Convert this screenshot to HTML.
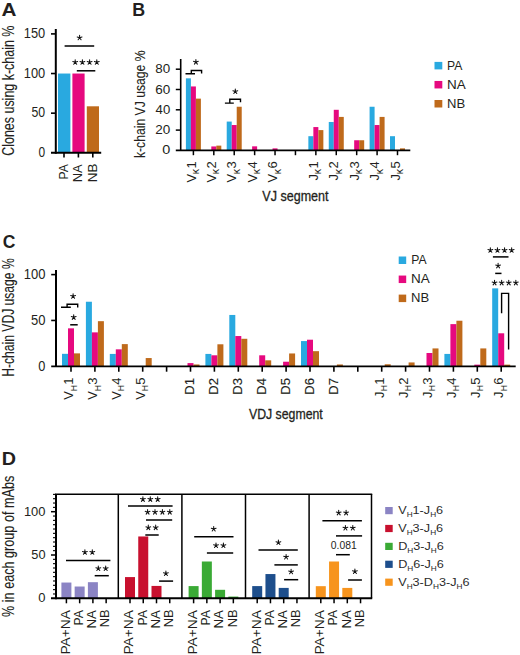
<!DOCTYPE html>
<html><head><meta charset="utf-8"><style>
html,body{margin:0;padding:0;background:#fff;}
body{width:520px;height:655px;overflow:hidden;}
svg{display:block;font-family:"Liberation Sans",sans-serif;}
</style></head><body>
<svg width="520" height="655" viewBox="0 0 520 655">
<rect width="520" height="655" fill="#fff"/>
<text x="1.48" y="16.10" font-size="19" fill="#231f20" textLength="14.98" lengthAdjust="spacingAndGlyphs" font-weight="bold">A</text>
<text transform="translate(13.90,155.82) rotate(-90)" font-size="16" fill="#231f20" textLength="130.26" lengthAdjust="spacingAndGlyphs" stroke="#231f20" stroke-width="0.1">Clones using k-chain %</text>
<rect x="58.00" y="73.53" width="12.40" height="79.27" fill="#29a9e0"/>
<rect x="72.40" y="73.53" width="12.20" height="79.27" fill="#e6097f"/>
<rect x="86.80" y="106.30" width="12.20" height="46.50" fill="#bf6a1b"/>
<line x1="55.80" y1="29.00" x2="55.80" y2="153.80" stroke="#000" stroke-width="2"/>
<line x1="51.00" y1="152.80" x2="101.20" y2="152.80" stroke="#000" stroke-width="2"/>
<line x1="51.00" y1="113.17" x2="56.00" y2="113.17" stroke="#000" stroke-width="1.6"/>
<line x1="51.00" y1="73.53" x2="56.00" y2="73.53" stroke="#000" stroke-width="1.6"/>
<line x1="51.00" y1="33.90" x2="56.00" y2="33.90" stroke="#000" stroke-width="1.6"/>
<text x="38.52" y="157.11" font-size="14.3" fill="#231f20" textLength="6.64" lengthAdjust="spacingAndGlyphs">0</text>
<text x="31.51" y="117.48" font-size="14.3" fill="#231f20" textLength="13.68" lengthAdjust="spacingAndGlyphs">50</text>
<text x="23.74" y="77.85" font-size="14.3" fill="#231f20" textLength="21.46" lengthAdjust="spacingAndGlyphs">100</text>
<text x="23.74" y="38.21" font-size="14.3" fill="#231f20" textLength="21.46" lengthAdjust="spacingAndGlyphs">150</text>
<line x1="64.00" y1="152.80" x2="64.00" y2="157.50" stroke="#000" stroke-width="1.6"/>
<text transform="translate(67.90,179.50) rotate(-90)" font-size="13.0" fill="#231f20" textLength="15.22" lengthAdjust="spacingAndGlyphs">PA</text>
<line x1="78.40" y1="152.80" x2="78.40" y2="157.50" stroke="#000" stroke-width="1.6"/>
<text transform="translate(82.30,182.27) rotate(-90)" font-size="13.0" fill="#231f20" textLength="17.99" lengthAdjust="spacingAndGlyphs">NA</text>
<line x1="92.80" y1="152.80" x2="92.80" y2="157.50" stroke="#000" stroke-width="1.6"/>
<text transform="translate(96.70,182.31) rotate(-90)" font-size="13.0" fill="#231f20" textLength="18.71" lengthAdjust="spacingAndGlyphs">NB</text>
<line x1="64.60" y1="46.00" x2="94.20" y2="46.00" stroke="#000" stroke-width="1.5"/>
<path d="M79.60,37.79L79.60,35.29M79.60,37.79L81.98,37.02M79.60,37.79L81.07,39.81M79.60,37.79L78.13,39.81M79.60,37.79L77.22,37.02" stroke="#111" stroke-width="1.05" stroke-linecap="round" fill="none"/>
<circle cx="79.60" cy="37.79" r="0.79" fill="#111"/>
<line x1="76.80" y1="70.80" x2="95.30" y2="70.80" stroke="#000" stroke-width="1.5"/>
<path d="M75.20,62.29L75.20,59.79M75.20,62.29L77.58,61.52M75.20,62.29L76.67,64.31M75.20,62.29L73.73,64.31M75.20,62.29L72.82,61.52" stroke="#111" stroke-width="1.05" stroke-linecap="round" fill="none"/>
<circle cx="75.20" cy="62.29" r="0.79" fill="#111"/>
<path d="M82.40,62.29L82.40,59.79M82.40,62.29L84.78,61.52M82.40,62.29L83.87,64.31M82.40,62.29L80.93,64.31M82.40,62.29L80.02,61.52" stroke="#111" stroke-width="1.05" stroke-linecap="round" fill="none"/>
<circle cx="82.40" cy="62.29" r="0.79" fill="#111"/>
<path d="M89.60,62.29L89.60,59.79M89.60,62.29L91.98,61.52M89.60,62.29L91.07,64.31M89.60,62.29L88.13,64.31M89.60,62.29L87.22,61.52" stroke="#111" stroke-width="1.05" stroke-linecap="round" fill="none"/>
<circle cx="89.60" cy="62.29" r="0.79" fill="#111"/>
<path d="M96.80,62.29L96.80,59.79M96.80,62.29L99.18,61.52M96.80,62.29L98.27,64.31M96.80,62.29L95.33,64.31M96.80,62.29L94.42,61.52" stroke="#111" stroke-width="1.05" stroke-linecap="round" fill="none"/>
<circle cx="96.80" cy="62.29" r="0.79" fill="#111"/>
<text x="132.19" y="16.10" font-size="19" fill="#231f20" textLength="12.90" lengthAdjust="spacingAndGlyphs" font-weight="bold">B</text>
<text transform="translate(145.30,158.12) rotate(-90)" font-size="14.5" fill="#231f20" textLength="107.73" lengthAdjust="spacingAndGlyphs" stroke="#231f20" stroke-width="0.1">k-chain VJ usage %</text>
<rect x="185.90" y="78.33" width="5.00" height="72.07" fill="#29a9e0"/>
<rect x="190.90" y="86.45" width="5.00" height="63.95" fill="#e6097f"/>
<rect x="195.90" y="98.63" width="5.00" height="51.77" fill="#bf6a1b"/>
<rect x="211.31" y="146.44" width="5.00" height="3.96" fill="#e6097f"/>
<rect x="216.31" y="145.63" width="5.00" height="4.77" fill="#bf6a1b"/>
<rect x="226.72" y="121.57" width="5.00" height="28.83" fill="#29a9e0"/>
<rect x="231.72" y="125.03" width="5.00" height="25.38" fill="#e6097f"/>
<rect x="236.72" y="106.75" width="5.00" height="43.65" fill="#bf6a1b"/>
<rect x="252.13" y="146.34" width="5.00" height="4.06" fill="#e6097f"/>
<rect x="272.54" y="148.37" width="5.00" height="2.03" fill="#e6097f"/>
<rect x="308.36" y="136.19" width="5.00" height="14.21" fill="#29a9e0"/>
<rect x="313.36" y="127.06" width="5.00" height="23.34" fill="#e6097f"/>
<rect x="318.36" y="130.10" width="5.00" height="20.30" fill="#bf6a1b"/>
<rect x="328.77" y="121.98" width="5.00" height="28.42" fill="#29a9e0"/>
<rect x="333.77" y="109.80" width="5.00" height="40.60" fill="#e6097f"/>
<rect x="338.77" y="116.91" width="5.00" height="33.50" fill="#bf6a1b"/>
<rect x="354.18" y="140.25" width="5.00" height="10.15" fill="#e6097f"/>
<rect x="359.18" y="140.25" width="5.00" height="10.15" fill="#bf6a1b"/>
<rect x="369.59" y="106.75" width="5.00" height="43.65" fill="#29a9e0"/>
<rect x="374.59" y="125.03" width="5.00" height="25.38" fill="#e6097f"/>
<rect x="379.59" y="116.91" width="5.00" height="33.50" fill="#bf6a1b"/>
<rect x="390.00" y="136.19" width="5.00" height="14.21" fill="#29a9e0"/>
<rect x="400.00" y="148.37" width="5.00" height="2.03" fill="#bf6a1b"/>
<line x1="180.70" y1="59.00" x2="180.70" y2="151.00" stroke="#000" stroke-width="1.6"/>
<line x1="175.80" y1="150.40" x2="410.30" y2="150.40" stroke="#000" stroke-width="1.8"/>
<line x1="175.80" y1="130.10" x2="180.70" y2="130.10" stroke="#000" stroke-width="1.5"/>
<line x1="175.80" y1="109.80" x2="180.70" y2="109.80" stroke="#000" stroke-width="1.5"/>
<line x1="175.80" y1="89.50" x2="180.70" y2="89.50" stroke="#000" stroke-width="1.5"/>
<line x1="175.80" y1="69.20" x2="180.70" y2="69.20" stroke="#000" stroke-width="1.5"/>
<text x="162.22" y="154.45" font-size="13.7" fill="#231f20" textLength="8.04" lengthAdjust="spacingAndGlyphs">0</text>
<text x="155.23" y="134.15" font-size="13.7" fill="#231f20" textLength="15.01" lengthAdjust="spacingAndGlyphs">20</text>
<text x="155.60" y="113.85" font-size="13.7" fill="#231f20" textLength="14.62" lengthAdjust="spacingAndGlyphs">40</text>
<text x="155.23" y="93.55" font-size="13.7" fill="#231f20" textLength="15.01" lengthAdjust="spacingAndGlyphs">60</text>
<text x="155.33" y="73.25" font-size="13.7" fill="#231f20" textLength="14.90" lengthAdjust="spacingAndGlyphs">80</text>
<line x1="193.40" y1="150.40" x2="193.40" y2="155.20" stroke="#000" stroke-width="1.5"/>
<text transform="translate(195.60,182.46) rotate(-90)" font-size="13" fill="#231f20">V</text>
<text transform="translate(199.00,174.31) rotate(-90)" font-size="10.5" fill="#231f20">κ</text>
<text transform="translate(195.60,168.60) rotate(-90)" font-size="13" fill="#231f20">1</text>
<line x1="213.81" y1="150.40" x2="213.81" y2="155.20" stroke="#000" stroke-width="1.5"/>
<text transform="translate(216.01,182.46) rotate(-90)" font-size="13" fill="#231f20">V</text>
<text transform="translate(219.41,174.31) rotate(-90)" font-size="10.5" fill="#231f20">κ</text>
<text transform="translate(216.01,168.60) rotate(-90)" font-size="13" fill="#231f20">2</text>
<line x1="234.22" y1="150.40" x2="234.22" y2="155.20" stroke="#000" stroke-width="1.5"/>
<text transform="translate(236.42,182.46) rotate(-90)" font-size="13" fill="#231f20">V</text>
<text transform="translate(239.82,174.31) rotate(-90)" font-size="10.5" fill="#231f20">κ</text>
<text transform="translate(236.42,168.60) rotate(-90)" font-size="13" fill="#231f20">3</text>
<line x1="254.63" y1="150.40" x2="254.63" y2="155.20" stroke="#000" stroke-width="1.5"/>
<text transform="translate(256.83,182.46) rotate(-90)" font-size="13" fill="#231f20">V</text>
<text transform="translate(260.23,174.31) rotate(-90)" font-size="10.5" fill="#231f20">κ</text>
<text transform="translate(256.83,168.60) rotate(-90)" font-size="13" fill="#231f20">4</text>
<line x1="275.04" y1="150.40" x2="275.04" y2="155.20" stroke="#000" stroke-width="1.5"/>
<text transform="translate(277.24,182.46) rotate(-90)" font-size="13" fill="#231f20">V</text>
<text transform="translate(280.64,174.31) rotate(-90)" font-size="10.5" fill="#231f20">κ</text>
<text transform="translate(277.24,168.60) rotate(-90)" font-size="13" fill="#231f20">6</text>
<line x1="295.45" y1="150.40" x2="295.45" y2="155.20" stroke="#000" stroke-width="1.5"/>
<line x1="315.86" y1="150.40" x2="315.86" y2="155.20" stroke="#000" stroke-width="1.5"/>
<text transform="translate(318.06,180.39) rotate(-90)" font-size="13" fill="#231f20">J</text>
<text transform="translate(321.46,174.31) rotate(-90)" font-size="10.5" fill="#231f20">κ</text>
<text transform="translate(318.06,168.60) rotate(-90)" font-size="13" fill="#231f20">1</text>
<line x1="336.27" y1="150.40" x2="336.27" y2="155.20" stroke="#000" stroke-width="1.5"/>
<text transform="translate(338.47,180.39) rotate(-90)" font-size="13" fill="#231f20">J</text>
<text transform="translate(341.87,174.31) rotate(-90)" font-size="10.5" fill="#231f20">κ</text>
<text transform="translate(338.47,168.60) rotate(-90)" font-size="13" fill="#231f20">2</text>
<line x1="356.68" y1="150.40" x2="356.68" y2="155.20" stroke="#000" stroke-width="1.5"/>
<text transform="translate(358.88,180.39) rotate(-90)" font-size="13" fill="#231f20">J</text>
<text transform="translate(362.28,174.31) rotate(-90)" font-size="10.5" fill="#231f20">κ</text>
<text transform="translate(358.88,168.60) rotate(-90)" font-size="13" fill="#231f20">3</text>
<line x1="377.09" y1="150.40" x2="377.09" y2="155.20" stroke="#000" stroke-width="1.5"/>
<text transform="translate(379.29,180.39) rotate(-90)" font-size="13" fill="#231f20">J</text>
<text transform="translate(382.69,174.31) rotate(-90)" font-size="10.5" fill="#231f20">κ</text>
<text transform="translate(379.29,168.60) rotate(-90)" font-size="13" fill="#231f20">4</text>
<line x1="397.50" y1="150.40" x2="397.50" y2="155.20" stroke="#000" stroke-width="1.5"/>
<text transform="translate(399.70,180.39) rotate(-90)" font-size="13" fill="#231f20">J</text>
<text transform="translate(403.10,174.31) rotate(-90)" font-size="10.5" fill="#231f20">κ</text>
<text transform="translate(399.70,168.60) rotate(-90)" font-size="13" fill="#231f20">5</text>
<path d="M185.5,73.75H195M191.3,73.75V70.5H201.6V73.6" fill="none" stroke="#000" stroke-width="1.4"/>
<path d="M195.90,62.14L195.90,59.64M195.90,62.14L198.28,61.37M195.90,62.14L197.37,64.16M195.90,62.14L194.43,64.16M195.90,62.14L193.52,61.37" stroke="#111" stroke-width="1.05" stroke-linecap="round" fill="none"/>
<circle cx="195.90" cy="62.14" r="0.79" fill="#111"/>
<path d="M224.9,103.1H233.8M229.8,103.1V99.3H240.5V102.3" fill="none" stroke="#000" stroke-width="1.4"/>
<path d="M235.30,91.49L235.30,88.99M235.30,91.49L237.68,90.72M235.30,91.49L236.77,93.51M235.30,91.49L233.83,93.51M235.30,91.49L232.92,90.72" stroke="#111" stroke-width="1.05" stroke-linecap="round" fill="none"/>
<circle cx="235.30" cy="91.49" r="0.79" fill="#111"/>
<text x="262.34" y="201.40" font-size="14" fill="#231f20" textLength="66.16" lengthAdjust="spacingAndGlyphs" stroke="#231f20" stroke-width="0.3">VJ segment</text>
<rect x="434.50" y="61.90" width="7.80" height="7.50" fill="#29a9e0"/>
<text x="447.10" y="69.50" font-size="12.3" fill="#231f20" textLength="15.33" lengthAdjust="spacingAndGlyphs">PA</text>
<rect x="434.50" y="80.95" width="7.80" height="7.50" fill="#e6097f"/>
<text x="446.99" y="88.55" font-size="12.3" fill="#231f20" textLength="18.74" lengthAdjust="spacingAndGlyphs">NA</text>
<rect x="434.50" y="100.00" width="7.80" height="7.50" fill="#bf6a1b"/>
<text x="447.02" y="107.60" font-size="12.3" fill="#231f20" textLength="18.15" lengthAdjust="spacingAndGlyphs">NB</text>
<text x="2.70" y="247.80" font-size="19" fill="#231f20" textLength="12.68" lengthAdjust="spacingAndGlyphs" font-weight="bold">C</text>
<text transform="translate(13.90,376.80) rotate(-90)" font-size="16" fill="#231f20" textLength="118.52" lengthAdjust="spacingAndGlyphs" stroke="#231f20" stroke-width="0.1">H-chain VDJ usage %</text>
<rect x="62.00" y="353.83" width="6.00" height="12.47" fill="#29a9e0"/>
<rect x="68.00" y="328.34" width="6.00" height="37.96" fill="#e6097f"/>
<rect x="74.00" y="353.37" width="6.00" height="12.93" fill="#bf6a1b"/>
<rect x="85.90" y="301.74" width="6.00" height="64.56" fill="#29a9e0"/>
<rect x="91.90" y="332.37" width="6.00" height="33.93" fill="#e6097f"/>
<rect x="97.90" y="321.18" width="6.00" height="45.12" fill="#bf6a1b"/>
<rect x="109.80" y="353.92" width="6.00" height="12.38" fill="#29a9e0"/>
<rect x="115.80" y="349.34" width="6.00" height="16.96" fill="#e6097f"/>
<rect x="121.80" y="344.11" width="6.00" height="22.19" fill="#bf6a1b"/>
<rect x="145.70" y="358.05" width="6.00" height="8.25" fill="#bf6a1b"/>
<rect x="187.50" y="363.09" width="6.00" height="3.21" fill="#e6097f"/>
<rect x="193.50" y="364.47" width="6.00" height="1.83" fill="#bf6a1b"/>
<rect x="205.40" y="353.92" width="6.00" height="12.38" fill="#29a9e0"/>
<rect x="211.40" y="355.30" width="6.00" height="11.00" fill="#e6097f"/>
<rect x="217.40" y="344.29" width="6.00" height="22.01" fill="#bf6a1b"/>
<rect x="229.30" y="314.95" width="6.00" height="51.35" fill="#29a9e0"/>
<rect x="235.30" y="336.04" width="6.00" height="30.26" fill="#e6097f"/>
<rect x="241.30" y="338.79" width="6.00" height="27.51" fill="#bf6a1b"/>
<rect x="259.20" y="355.30" width="6.00" height="11.00" fill="#e6097f"/>
<rect x="265.20" y="360.34" width="6.00" height="5.96" fill="#bf6a1b"/>
<rect x="283.10" y="361.72" width="6.00" height="4.58" fill="#e6097f"/>
<rect x="289.10" y="353.46" width="6.00" height="12.84" fill="#bf6a1b"/>
<rect x="301.00" y="341.08" width="6.00" height="25.22" fill="#29a9e0"/>
<rect x="307.00" y="339.71" width="6.00" height="26.59" fill="#e6097f"/>
<rect x="313.00" y="351.17" width="6.00" height="15.13" fill="#bf6a1b"/>
<rect x="336.90" y="364.47" width="6.00" height="1.83" fill="#bf6a1b"/>
<rect x="384.70" y="364.28" width="6.00" height="2.02" fill="#bf6a1b"/>
<rect x="408.60" y="362.45" width="6.00" height="3.85" fill="#bf6a1b"/>
<rect x="426.50" y="353.00" width="6.00" height="13.30" fill="#e6097f"/>
<rect x="432.50" y="348.42" width="6.00" height="17.88" fill="#bf6a1b"/>
<rect x="444.40" y="353.92" width="6.00" height="12.38" fill="#29a9e0"/>
<rect x="450.40" y="324.12" width="6.00" height="42.18" fill="#e6097f"/>
<rect x="456.40" y="320.73" width="6.00" height="45.57" fill="#bf6a1b"/>
<rect x="474.30" y="364.65" width="6.00" height="1.65" fill="#e6097f"/>
<rect x="480.30" y="348.42" width="6.00" height="17.88" fill="#bf6a1b"/>
<rect x="492.20" y="288.36" width="6.00" height="77.94" fill="#29a9e0"/>
<rect x="498.20" y="333.29" width="6.00" height="33.01" fill="#e6097f"/>
<rect x="504.20" y="364.65" width="6.00" height="1.65" fill="#bf6a1b"/>
<line x1="56.00" y1="270.00" x2="56.00" y2="367.00" stroke="#000" stroke-width="2"/>
<line x1="51.20" y1="366.30" x2="515.70" y2="366.30" stroke="#000" stroke-width="1.7"/>
<line x1="51.20" y1="320.45" x2="56.00" y2="320.45" stroke="#000" stroke-width="1.6"/>
<line x1="51.20" y1="274.60" x2="56.00" y2="274.60" stroke="#000" stroke-width="1.6"/>
<text x="38.29" y="370.56" font-size="14.3" fill="#231f20" textLength="7.11" lengthAdjust="spacingAndGlyphs">0</text>
<text x="30.98" y="324.71" font-size="14.3" fill="#231f20" textLength="14.44" lengthAdjust="spacingAndGlyphs">50</text>
<text x="23.73" y="278.86" font-size="14.3" fill="#231f20" textLength="21.67" lengthAdjust="spacingAndGlyphs">100</text>
<line x1="71.00" y1="366.30" x2="71.00" y2="371.70" stroke="#000" stroke-width="1.6"/>
<text transform="translate(73.20,399.87) rotate(-90)" font-size="13" fill="#231f20">V</text>
<text transform="translate(76.60,391.32) rotate(-90)" font-size="8.7" fill="#231f20">H</text>
<text transform="translate(73.20,384.70) rotate(-90)" font-size="13" fill="#231f20">1</text>
<line x1="94.90" y1="366.30" x2="94.90" y2="371.70" stroke="#000" stroke-width="1.6"/>
<text transform="translate(97.10,399.87) rotate(-90)" font-size="13" fill="#231f20">V</text>
<text transform="translate(100.50,391.32) rotate(-90)" font-size="8.7" fill="#231f20">H</text>
<text transform="translate(97.10,384.70) rotate(-90)" font-size="13" fill="#231f20">3</text>
<line x1="118.80" y1="366.30" x2="118.80" y2="371.70" stroke="#000" stroke-width="1.6"/>
<text transform="translate(121.00,399.87) rotate(-90)" font-size="13" fill="#231f20">V</text>
<text transform="translate(124.40,391.32) rotate(-90)" font-size="8.7" fill="#231f20">H</text>
<text transform="translate(121.00,384.70) rotate(-90)" font-size="13" fill="#231f20">4</text>
<line x1="142.70" y1="366.30" x2="142.70" y2="371.70" stroke="#000" stroke-width="1.6"/>
<text transform="translate(144.90,399.87) rotate(-90)" font-size="13" fill="#231f20">V</text>
<text transform="translate(148.30,391.32) rotate(-90)" font-size="8.7" fill="#231f20">H</text>
<text transform="translate(144.90,384.70) rotate(-90)" font-size="13" fill="#231f20">5</text>
<line x1="166.60" y1="366.30" x2="166.60" y2="371.70" stroke="#000" stroke-width="1.6"/>
<line x1="190.50" y1="366.30" x2="190.50" y2="371.70" stroke="#000" stroke-width="1.6"/>
<text transform="translate(194.20,394.67) rotate(-90)" font-size="13" fill="#231f20" stroke="#231f20" stroke-width="0.15">D1</text>
<line x1="214.40" y1="366.30" x2="214.40" y2="371.70" stroke="#000" stroke-width="1.6"/>
<text transform="translate(218.10,394.67) rotate(-90)" font-size="13" fill="#231f20" stroke="#231f20" stroke-width="0.15">D2</text>
<line x1="238.30" y1="366.30" x2="238.30" y2="371.70" stroke="#000" stroke-width="1.6"/>
<text transform="translate(242.00,394.67) rotate(-90)" font-size="13" fill="#231f20" stroke="#231f20" stroke-width="0.15">D3</text>
<line x1="262.20" y1="366.30" x2="262.20" y2="371.70" stroke="#000" stroke-width="1.6"/>
<text transform="translate(265.90,394.67) rotate(-90)" font-size="13" fill="#231f20" stroke="#231f20" stroke-width="0.15">D4</text>
<line x1="286.10" y1="366.30" x2="286.10" y2="371.70" stroke="#000" stroke-width="1.6"/>
<text transform="translate(289.80,394.67) rotate(-90)" font-size="13" fill="#231f20" stroke="#231f20" stroke-width="0.15">D5</text>
<line x1="310.00" y1="366.30" x2="310.00" y2="371.70" stroke="#000" stroke-width="1.6"/>
<text transform="translate(313.70,394.67) rotate(-90)" font-size="13" fill="#231f20" stroke="#231f20" stroke-width="0.15">D6</text>
<line x1="333.90" y1="366.30" x2="333.90" y2="371.70" stroke="#000" stroke-width="1.6"/>
<text transform="translate(337.60,394.67) rotate(-90)" font-size="13" fill="#231f20" stroke="#231f20" stroke-width="0.15">D7</text>
<line x1="357.80" y1="366.30" x2="357.80" y2="371.70" stroke="#000" stroke-width="1.6"/>
<line x1="381.70" y1="366.30" x2="381.70" y2="371.70" stroke="#000" stroke-width="1.6"/>
<text transform="translate(383.90,398.00) rotate(-90)" font-size="13" fill="#231f20">J</text>
<text transform="translate(387.30,391.32) rotate(-90)" font-size="8.7" fill="#231f20">H</text>
<text transform="translate(383.90,384.70) rotate(-90)" font-size="13" fill="#231f20">1</text>
<line x1="405.60" y1="366.30" x2="405.60" y2="371.70" stroke="#000" stroke-width="1.6"/>
<text transform="translate(407.80,398.00) rotate(-90)" font-size="13" fill="#231f20">J</text>
<text transform="translate(411.20,391.32) rotate(-90)" font-size="8.7" fill="#231f20">H</text>
<text transform="translate(407.80,384.70) rotate(-90)" font-size="13" fill="#231f20">2</text>
<line x1="429.50" y1="366.30" x2="429.50" y2="371.70" stroke="#000" stroke-width="1.6"/>
<text transform="translate(431.70,398.00) rotate(-90)" font-size="13" fill="#231f20">J</text>
<text transform="translate(435.10,391.32) rotate(-90)" font-size="8.7" fill="#231f20">H</text>
<text transform="translate(431.70,384.70) rotate(-90)" font-size="13" fill="#231f20">3</text>
<line x1="453.40" y1="366.30" x2="453.40" y2="371.70" stroke="#000" stroke-width="1.6"/>
<text transform="translate(455.60,398.00) rotate(-90)" font-size="13" fill="#231f20">J</text>
<text transform="translate(459.00,391.32) rotate(-90)" font-size="8.7" fill="#231f20">H</text>
<text transform="translate(455.60,384.70) rotate(-90)" font-size="13" fill="#231f20">4</text>
<line x1="477.30" y1="366.30" x2="477.30" y2="371.70" stroke="#000" stroke-width="1.6"/>
<text transform="translate(479.50,398.00) rotate(-90)" font-size="13" fill="#231f20">J</text>
<text transform="translate(482.90,391.32) rotate(-90)" font-size="8.7" fill="#231f20">H</text>
<text transform="translate(479.50,384.70) rotate(-90)" font-size="13" fill="#231f20">5</text>
<line x1="501.20" y1="366.30" x2="501.20" y2="371.70" stroke="#000" stroke-width="1.6"/>
<text transform="translate(503.40,398.00) rotate(-90)" font-size="13" fill="#231f20">J</text>
<text transform="translate(506.80,391.32) rotate(-90)" font-size="8.7" fill="#231f20">H</text>
<text transform="translate(503.40,384.70) rotate(-90)" font-size="13" fill="#231f20">6</text>
<path d="M61,307.3H70.8M67.1,307.3V304.2H77.7V307.4" fill="none" stroke="#000" stroke-width="1.4"/>
<path d="M73.10,296.29L73.10,293.79M73.10,296.29L75.48,295.52M73.10,296.29L74.57,298.31M73.10,296.29L71.63,298.31M73.10,296.29L70.72,295.52" stroke="#111" stroke-width="1.05" stroke-linecap="round" fill="none"/>
<circle cx="73.10" cy="296.29" r="0.79" fill="#111"/>
<path d="M73.70,317.34L73.70,314.84M73.70,317.34L76.08,316.57M73.70,317.34L75.17,319.36M73.70,317.34L72.23,319.36M73.70,317.34L71.32,316.57" stroke="#111" stroke-width="1.05" stroke-linecap="round" fill="none"/>
<circle cx="73.70" cy="317.34" r="0.79" fill="#111"/>
<line x1="70.20" y1="324.80" x2="77.70" y2="324.80" stroke="#000" stroke-width="1.5"/>
<path d="M490.35,250.24L490.35,247.74M490.35,250.24L492.73,249.47M490.35,250.24L491.82,252.26M490.35,250.24L488.88,252.26M490.35,250.24L487.97,249.47" stroke="#111" stroke-width="1.05" stroke-linecap="round" fill="none"/>
<circle cx="490.35" cy="250.24" r="0.79" fill="#111"/>
<path d="M497.45,250.24L497.45,247.74M497.45,250.24L499.83,249.47M497.45,250.24L498.92,252.26M497.45,250.24L495.98,252.26M497.45,250.24L495.07,249.47" stroke="#111" stroke-width="1.05" stroke-linecap="round" fill="none"/>
<circle cx="497.45" cy="250.24" r="0.79" fill="#111"/>
<path d="M504.55,250.24L504.55,247.74M504.55,250.24L506.93,249.47M504.55,250.24L506.02,252.26M504.55,250.24L503.08,252.26M504.55,250.24L502.17,249.47" stroke="#111" stroke-width="1.05" stroke-linecap="round" fill="none"/>
<circle cx="504.55" cy="250.24" r="0.79" fill="#111"/>
<path d="M511.65,250.24L511.65,247.74M511.65,250.24L514.03,249.47M511.65,250.24L513.12,252.26M511.65,250.24L510.18,252.26M511.65,250.24L509.27,249.47" stroke="#111" stroke-width="1.05" stroke-linecap="round" fill="none"/>
<circle cx="511.65" cy="250.24" r="0.79" fill="#111"/>
<line x1="492.90" y1="256.90" x2="508.50" y2="256.90" stroke="#000" stroke-width="1.5"/>
<path d="M498.10,265.84L498.10,263.34M498.10,265.84L500.48,265.07M498.10,265.84L499.57,267.86M498.10,265.84L496.63,267.86M498.10,265.84L495.72,265.07" stroke="#111" stroke-width="1.05" stroke-linecap="round" fill="none"/>
<circle cx="498.10" cy="265.84" r="0.79" fill="#111"/>
<line x1="495.20" y1="273.40" x2="501.50" y2="273.40" stroke="#000" stroke-width="1.5"/>
<path d="M494.55,282.84L494.55,280.34M494.55,282.84L496.93,282.07M494.55,282.84L496.02,284.86M494.55,282.84L493.08,284.86M494.55,282.84L492.17,282.07" stroke="#111" stroke-width="1.05" stroke-linecap="round" fill="none"/>
<circle cx="494.55" cy="282.84" r="0.79" fill="#111"/>
<path d="M501.65,282.84L501.65,280.34M501.65,282.84L504.03,282.07M501.65,282.84L503.12,284.86M501.65,282.84L500.18,284.86M501.65,282.84L499.27,282.07" stroke="#111" stroke-width="1.05" stroke-linecap="round" fill="none"/>
<circle cx="501.65" cy="282.84" r="0.79" fill="#111"/>
<path d="M508.75,282.84L508.75,280.34M508.75,282.84L511.13,282.07M508.75,282.84L510.22,284.86M508.75,282.84L507.28,284.86M508.75,282.84L506.37,282.07" stroke="#111" stroke-width="1.05" stroke-linecap="round" fill="none"/>
<circle cx="508.75" cy="282.84" r="0.79" fill="#111"/>
<path d="M515.85,282.84L515.85,280.34M515.85,282.84L518.23,282.07M515.85,282.84L517.32,284.86M515.85,282.84L514.38,284.86M515.85,282.84L513.47,282.07" stroke="#111" stroke-width="1.05" stroke-linecap="round" fill="none"/>
<circle cx="515.85" cy="282.84" r="0.79" fill="#111"/>
<path d="M501.6,313.2V293.4H508.6V349.4" fill="none" stroke="#000" stroke-width="1.4"/>
<text x="248.94" y="418.70" font-size="14" fill="#231f20" textLength="73.85" lengthAdjust="spacingAndGlyphs" stroke="#231f20" stroke-width="0.3">VDJ segment</text>
<rect x="398.70" y="256.50" width="7.50" height="7.50" fill="#29a9e0"/>
<text x="411.20" y="264.00" font-size="12.3" fill="#231f20" textLength="15.33" lengthAdjust="spacingAndGlyphs">PA</text>
<rect x="398.70" y="275.55" width="7.50" height="7.50" fill="#e6097f"/>
<text x="411.09" y="283.05" font-size="12.3" fill="#231f20" textLength="18.74" lengthAdjust="spacingAndGlyphs">NA</text>
<rect x="398.70" y="294.60" width="7.50" height="7.50" fill="#bf6a1b"/>
<text x="411.12" y="302.10" font-size="12.3" fill="#231f20" textLength="18.15" lengthAdjust="spacingAndGlyphs">NB</text>
<text x="1.87" y="465.20" font-size="19" fill="#231f20" textLength="14.27" lengthAdjust="spacingAndGlyphs" font-weight="bold">D</text>
<text transform="translate(14.10,616.94) rotate(-90)" font-size="16" fill="#231f20" textLength="141.19" lengthAdjust="spacingAndGlyphs" stroke="#231f20" stroke-width="0.1">% in each group of mAbs</text>
<rect x="61.40" y="582.54" width="10.00" height="15.76" fill="#8b84c4"/>
<rect x="74.65" y="586.52" width="10.00" height="11.78" fill="#8b84c4"/>
<rect x="87.90" y="582.19" width="10.00" height="16.11" fill="#8b84c4"/>
<rect x="125.00" y="577.08" width="10.00" height="21.22" fill="#c8102e"/>
<rect x="138.25" y="536.47" width="10.00" height="61.83" fill="#c8102e"/>
<rect x="151.50" y="585.92" width="10.00" height="12.38" fill="#c8102e"/>
<rect x="188.60" y="586.09" width="10.00" height="12.21" fill="#3aaa35"/>
<rect x="201.85" y="561.50" width="10.00" height="36.80" fill="#3aaa35"/>
<rect x="215.10" y="589.81" width="10.00" height="8.49" fill="#3aaa35"/>
<rect x="228.35" y="596.57" width="10.00" height="1.73" fill="#3aaa35"/>
<rect x="252.20" y="586.09" width="10.00" height="12.21" fill="#1d4e8c"/>
<rect x="265.45" y="574.05" width="10.00" height="24.25" fill="#1d4e8c"/>
<rect x="278.70" y="587.91" width="10.00" height="10.39" fill="#1d4e8c"/>
<rect x="315.80" y="586.18" width="10.00" height="12.12" fill="#f7941d"/>
<rect x="329.05" y="561.50" width="10.00" height="36.80" fill="#f7941d"/>
<rect x="342.30" y="587.91" width="10.00" height="10.39" fill="#f7941d"/>
<line x1="56.00" y1="494.00" x2="56.00" y2="599.30" stroke="#000" stroke-width="2"/>
<line x1="55.00" y1="494.30" x2="372.20" y2="494.30" stroke="#000" stroke-width="1.5"/>
<line x1="371.50" y1="494.00" x2="371.50" y2="598.30" stroke="#000" stroke-width="1.5"/>
<line x1="118.30" y1="494.00" x2="118.30" y2="598.30" stroke="#000" stroke-width="1.5"/>
<line x1="181.90" y1="494.00" x2="181.90" y2="598.30" stroke="#000" stroke-width="1.5"/>
<line x1="245.50" y1="494.00" x2="245.50" y2="598.30" stroke="#000" stroke-width="1.5"/>
<line x1="309.10" y1="494.00" x2="309.10" y2="598.30" stroke="#000" stroke-width="1.5"/>
<line x1="51.00" y1="598.30" x2="372.20" y2="598.30" stroke="#000" stroke-width="2"/>
<line x1="53.00" y1="593.97" x2="56.00" y2="593.97" stroke="#000" stroke-width="1.1"/>
<line x1="53.00" y1="589.64" x2="56.00" y2="589.64" stroke="#000" stroke-width="1.1"/>
<line x1="53.00" y1="585.31" x2="56.00" y2="585.31" stroke="#000" stroke-width="1.1"/>
<line x1="53.00" y1="580.98" x2="56.00" y2="580.98" stroke="#000" stroke-width="1.1"/>
<line x1="53.00" y1="576.65" x2="56.00" y2="576.65" stroke="#000" stroke-width="1.1"/>
<line x1="53.00" y1="572.32" x2="56.00" y2="572.32" stroke="#000" stroke-width="1.1"/>
<line x1="53.00" y1="567.99" x2="56.00" y2="567.99" stroke="#000" stroke-width="1.1"/>
<line x1="53.00" y1="563.66" x2="56.00" y2="563.66" stroke="#000" stroke-width="1.1"/>
<line x1="53.00" y1="559.33" x2="56.00" y2="559.33" stroke="#000" stroke-width="1.1"/>
<line x1="51.00" y1="555.00" x2="56.00" y2="555.00" stroke="#000" stroke-width="1.5"/>
<line x1="53.00" y1="550.67" x2="56.00" y2="550.67" stroke="#000" stroke-width="1.1"/>
<line x1="53.00" y1="546.34" x2="56.00" y2="546.34" stroke="#000" stroke-width="1.1"/>
<line x1="53.00" y1="542.01" x2="56.00" y2="542.01" stroke="#000" stroke-width="1.1"/>
<line x1="53.00" y1="537.68" x2="56.00" y2="537.68" stroke="#000" stroke-width="1.1"/>
<line x1="53.00" y1="533.35" x2="56.00" y2="533.35" stroke="#000" stroke-width="1.1"/>
<line x1="53.00" y1="529.02" x2="56.00" y2="529.02" stroke="#000" stroke-width="1.1"/>
<line x1="53.00" y1="524.69" x2="56.00" y2="524.69" stroke="#000" stroke-width="1.1"/>
<line x1="53.00" y1="520.36" x2="56.00" y2="520.36" stroke="#000" stroke-width="1.1"/>
<line x1="53.00" y1="516.03" x2="56.00" y2="516.03" stroke="#000" stroke-width="1.1"/>
<line x1="51.00" y1="511.70" x2="56.00" y2="511.70" stroke="#000" stroke-width="1.5"/>
<line x1="53.00" y1="507.37" x2="56.00" y2="507.37" stroke="#000" stroke-width="1.1"/>
<line x1="53.00" y1="503.04" x2="56.00" y2="503.04" stroke="#000" stroke-width="1.1"/>
<line x1="53.00" y1="498.71" x2="56.00" y2="498.71" stroke="#000" stroke-width="1.1"/>
<line x1="53.00" y1="494.38" x2="56.00" y2="494.38" stroke="#000" stroke-width="1.1"/>
<text x="38.28" y="602.11" font-size="13.6" fill="#231f20" textLength="7.22" lengthAdjust="spacingAndGlyphs">0</text>
<text x="31.29" y="558.81" font-size="13.6" fill="#231f20" textLength="14.22" lengthAdjust="spacingAndGlyphs">50</text>
<text x="23.93" y="515.51" font-size="13.6" fill="#231f20" textLength="21.57" lengthAdjust="spacingAndGlyphs">100</text>
<line x1="66.40" y1="598.30" x2="66.40" y2="603.30" stroke="#000" stroke-width="1.5"/>
<text transform="translate(69.70,654.53) rotate(-90)" font-size="12.8" fill="#231f20" textLength="44.48" lengthAdjust="spacingAndGlyphs">PA+NA</text>
<line x1="79.65" y1="598.30" x2="79.65" y2="603.30" stroke="#000" stroke-width="1.5"/>
<text transform="translate(82.95,625.51) rotate(-90)" font-size="12.8" fill="#231f20" textLength="15.44" lengthAdjust="spacingAndGlyphs">PA</text>
<line x1="92.90" y1="598.30" x2="92.90" y2="603.30" stroke="#000" stroke-width="1.5"/>
<text transform="translate(96.20,628.49) rotate(-90)" font-size="12.8" fill="#231f20" textLength="18.42" lengthAdjust="spacingAndGlyphs">NA</text>
<line x1="106.15" y1="598.30" x2="106.15" y2="603.30" stroke="#000" stroke-width="1.5"/>
<text transform="translate(109.45,627.26) rotate(-90)" font-size="12.8" fill="#231f20" textLength="17.82" lengthAdjust="spacingAndGlyphs">NB</text>
<line x1="130.00" y1="598.30" x2="130.00" y2="603.30" stroke="#000" stroke-width="1.5"/>
<text transform="translate(133.30,654.53) rotate(-90)" font-size="12.8" fill="#231f20" textLength="44.48" lengthAdjust="spacingAndGlyphs">PA+NA</text>
<line x1="143.25" y1="598.30" x2="143.25" y2="603.30" stroke="#000" stroke-width="1.5"/>
<text transform="translate(146.55,625.51) rotate(-90)" font-size="12.8" fill="#231f20" textLength="15.44" lengthAdjust="spacingAndGlyphs">PA</text>
<line x1="156.50" y1="598.30" x2="156.50" y2="603.30" stroke="#000" stroke-width="1.5"/>
<text transform="translate(159.80,628.49) rotate(-90)" font-size="12.8" fill="#231f20" textLength="18.42" lengthAdjust="spacingAndGlyphs">NA</text>
<line x1="169.75" y1="598.30" x2="169.75" y2="603.30" stroke="#000" stroke-width="1.5"/>
<text transform="translate(173.05,627.26) rotate(-90)" font-size="12.8" fill="#231f20" textLength="17.82" lengthAdjust="spacingAndGlyphs">NB</text>
<line x1="193.60" y1="598.30" x2="193.60" y2="603.30" stroke="#000" stroke-width="1.5"/>
<text transform="translate(196.90,654.53) rotate(-90)" font-size="12.8" fill="#231f20" textLength="44.48" lengthAdjust="spacingAndGlyphs">PA+NA</text>
<line x1="206.85" y1="598.30" x2="206.85" y2="603.30" stroke="#000" stroke-width="1.5"/>
<text transform="translate(210.15,625.51) rotate(-90)" font-size="12.8" fill="#231f20" textLength="15.44" lengthAdjust="spacingAndGlyphs">PA</text>
<line x1="220.10" y1="598.30" x2="220.10" y2="603.30" stroke="#000" stroke-width="1.5"/>
<text transform="translate(223.40,628.49) rotate(-90)" font-size="12.8" fill="#231f20" textLength="18.42" lengthAdjust="spacingAndGlyphs">NA</text>
<line x1="233.35" y1="598.30" x2="233.35" y2="603.30" stroke="#000" stroke-width="1.5"/>
<text transform="translate(236.65,627.26) rotate(-90)" font-size="12.8" fill="#231f20" textLength="17.82" lengthAdjust="spacingAndGlyphs">NB</text>
<line x1="257.20" y1="598.30" x2="257.20" y2="603.30" stroke="#000" stroke-width="1.5"/>
<text transform="translate(260.50,654.53) rotate(-90)" font-size="12.8" fill="#231f20" textLength="44.48" lengthAdjust="spacingAndGlyphs">PA+NA</text>
<line x1="270.45" y1="598.30" x2="270.45" y2="603.30" stroke="#000" stroke-width="1.5"/>
<text transform="translate(273.75,625.51) rotate(-90)" font-size="12.8" fill="#231f20" textLength="15.44" lengthAdjust="spacingAndGlyphs">PA</text>
<line x1="283.70" y1="598.30" x2="283.70" y2="603.30" stroke="#000" stroke-width="1.5"/>
<text transform="translate(287.00,628.49) rotate(-90)" font-size="12.8" fill="#231f20" textLength="18.42" lengthAdjust="spacingAndGlyphs">NA</text>
<line x1="296.95" y1="598.30" x2="296.95" y2="603.30" stroke="#000" stroke-width="1.5"/>
<text transform="translate(300.25,627.26) rotate(-90)" font-size="12.8" fill="#231f20" textLength="17.82" lengthAdjust="spacingAndGlyphs">NB</text>
<line x1="320.80" y1="598.30" x2="320.80" y2="603.30" stroke="#000" stroke-width="1.5"/>
<text transform="translate(324.10,654.53) rotate(-90)" font-size="12.8" fill="#231f20" textLength="44.48" lengthAdjust="spacingAndGlyphs">PA+NA</text>
<line x1="334.05" y1="598.30" x2="334.05" y2="603.30" stroke="#000" stroke-width="1.5"/>
<text transform="translate(337.35,625.51) rotate(-90)" font-size="12.8" fill="#231f20" textLength="15.44" lengthAdjust="spacingAndGlyphs">PA</text>
<line x1="347.30" y1="598.30" x2="347.30" y2="603.30" stroke="#000" stroke-width="1.5"/>
<text transform="translate(350.60,628.49) rotate(-90)" font-size="12.8" fill="#231f20" textLength="18.42" lengthAdjust="spacingAndGlyphs">NA</text>
<line x1="360.55" y1="598.30" x2="360.55" y2="603.30" stroke="#000" stroke-width="1.5"/>
<text transform="translate(363.85,627.26) rotate(-90)" font-size="12.8" fill="#231f20" textLength="17.82" lengthAdjust="spacingAndGlyphs">NB</text>
<line x1="66.00" y1="560.60" x2="110.40" y2="560.60" stroke="#000" stroke-width="1.5"/>
<path d="M84.90,552.29L84.90,549.79M84.90,552.29L87.28,551.52M84.90,552.29L86.37,554.31M84.90,552.29L83.43,554.31M84.90,552.29L82.52,551.52" stroke="#111" stroke-width="1.05" stroke-linecap="round" fill="none"/>
<circle cx="84.90" cy="552.29" r="0.79" fill="#111"/>
<path d="M92.30,552.29L92.30,549.79M92.30,552.29L94.68,551.52M92.30,552.29L93.77,554.31M92.30,552.29L90.83,554.31M92.30,552.29L89.92,551.52" stroke="#111" stroke-width="1.05" stroke-linecap="round" fill="none"/>
<circle cx="92.30" cy="552.29" r="0.79" fill="#111"/>
<line x1="94.70" y1="575.70" x2="108.80" y2="575.70" stroke="#000" stroke-width="1.5"/>
<path d="M98.30,568.44L98.30,565.94M98.30,568.44L100.68,567.67M98.30,568.44L99.77,570.46M98.30,568.44L96.83,570.46M98.30,568.44L95.92,567.67" stroke="#111" stroke-width="1.05" stroke-linecap="round" fill="none"/>
<circle cx="98.30" cy="568.44" r="0.79" fill="#111"/>
<path d="M105.70,568.44L105.70,565.94M105.70,568.44L108.08,567.67M105.70,568.44L107.17,570.46M105.70,568.44L104.23,570.46M105.70,568.44L103.32,567.67" stroke="#111" stroke-width="1.05" stroke-linecap="round" fill="none"/>
<circle cx="105.70" cy="568.44" r="0.79" fill="#111"/>
<line x1="128.00" y1="505.90" x2="172.60" y2="505.90" stroke="#000" stroke-width="1.5"/>
<path d="M142.90,499.34L142.90,496.84M142.90,499.34L145.28,498.57M142.90,499.34L144.37,501.36M142.90,499.34L141.43,501.36M142.90,499.34L140.52,498.57" stroke="#111" stroke-width="1.05" stroke-linecap="round" fill="none"/>
<circle cx="142.90" cy="499.34" r="0.79" fill="#111"/>
<path d="M150.30,499.34L150.30,496.84M150.30,499.34L152.68,498.57M150.30,499.34L151.77,501.36M150.30,499.34L148.83,501.36M150.30,499.34L147.92,498.57" stroke="#111" stroke-width="1.05" stroke-linecap="round" fill="none"/>
<circle cx="150.30" cy="499.34" r="0.79" fill="#111"/>
<path d="M157.70,499.34L157.70,496.84M157.70,499.34L160.08,498.57M157.70,499.34L159.17,501.36M157.70,499.34L156.23,501.36M157.70,499.34L155.32,498.57" stroke="#111" stroke-width="1.05" stroke-linecap="round" fill="none"/>
<circle cx="157.70" cy="499.34" r="0.79" fill="#111"/>
<line x1="146.00" y1="520.00" x2="172.20" y2="520.00" stroke="#000" stroke-width="1.5"/>
<path d="M147.60,512.14L147.60,509.64M147.60,512.14L149.98,511.37M147.60,512.14L149.07,514.16M147.60,512.14L146.13,514.16M147.60,512.14L145.22,511.37" stroke="#111" stroke-width="1.05" stroke-linecap="round" fill="none"/>
<circle cx="147.60" cy="512.14" r="0.79" fill="#111"/>
<path d="M155.00,512.14L155.00,509.64M155.00,512.14L157.38,511.37M155.00,512.14L156.47,514.16M155.00,512.14L153.53,514.16M155.00,512.14L152.62,511.37" stroke="#111" stroke-width="1.05" stroke-linecap="round" fill="none"/>
<circle cx="155.00" cy="512.14" r="0.79" fill="#111"/>
<path d="M162.40,512.14L162.40,509.64M162.40,512.14L164.78,511.37M162.40,512.14L163.87,514.16M162.40,512.14L160.93,514.16M162.40,512.14L160.02,511.37" stroke="#111" stroke-width="1.05" stroke-linecap="round" fill="none"/>
<circle cx="162.40" cy="512.14" r="0.79" fill="#111"/>
<path d="M169.80,512.14L169.80,509.64M169.80,512.14L172.18,511.37M169.80,512.14L171.27,514.16M169.80,512.14L168.33,514.16M169.80,512.14L167.42,511.37" stroke="#111" stroke-width="1.05" stroke-linecap="round" fill="none"/>
<circle cx="169.80" cy="512.14" r="0.79" fill="#111"/>
<line x1="145.30" y1="535.00" x2="158.70" y2="535.00" stroke="#000" stroke-width="1.5"/>
<path d="M148.30,527.64L148.30,525.14M148.30,527.64L150.68,526.87M148.30,527.64L149.77,529.66M148.30,527.64L146.83,529.66M148.30,527.64L145.92,526.87" stroke="#111" stroke-width="1.05" stroke-linecap="round" fill="none"/>
<circle cx="148.30" cy="527.64" r="0.79" fill="#111"/>
<path d="M155.70,527.64L155.70,525.14M155.70,527.64L158.08,526.87M155.70,527.64L157.17,529.66M155.70,527.64L154.23,529.66M155.70,527.64L153.32,526.87" stroke="#111" stroke-width="1.05" stroke-linecap="round" fill="none"/>
<circle cx="155.70" cy="527.64" r="0.79" fill="#111"/>
<line x1="159.10" y1="581.10" x2="173.10" y2="581.10" stroke="#000" stroke-width="1.5"/>
<path d="M165.90,573.54L165.90,571.04M165.90,573.54L168.28,572.77M165.90,573.54L167.37,575.56M165.90,573.54L164.43,575.56M165.90,573.54L163.52,572.77" stroke="#111" stroke-width="1.05" stroke-linecap="round" fill="none"/>
<circle cx="165.90" cy="573.54" r="0.79" fill="#111"/>
<line x1="194.20" y1="536.80" x2="233.50" y2="536.80" stroke="#000" stroke-width="1.5"/>
<path d="M213.70,528.94L213.70,526.44M213.70,528.94L216.08,528.17M213.70,528.94L215.17,530.96M213.70,528.94L212.23,530.96M213.70,528.94L211.32,528.17" stroke="#111" stroke-width="1.05" stroke-linecap="round" fill="none"/>
<circle cx="213.70" cy="528.94" r="0.79" fill="#111"/>
<line x1="206.90" y1="553.00" x2="233.20" y2="553.00" stroke="#000" stroke-width="1.5"/>
<path d="M216.00,545.44L216.00,542.94M216.00,545.44L218.38,544.67M216.00,545.44L217.47,547.46M216.00,545.44L214.53,547.46M216.00,545.44L213.62,544.67" stroke="#111" stroke-width="1.05" stroke-linecap="round" fill="none"/>
<circle cx="216.00" cy="545.44" r="0.79" fill="#111"/>
<path d="M223.40,545.44L223.40,542.94M223.40,545.44L225.78,544.67M223.40,545.44L224.87,547.46M223.40,545.44L221.93,547.46M223.40,545.44L221.02,544.67" stroke="#111" stroke-width="1.05" stroke-linecap="round" fill="none"/>
<circle cx="223.40" cy="545.44" r="0.79" fill="#111"/>
<line x1="258.50" y1="550.00" x2="297.80" y2="550.00" stroke="#000" stroke-width="1.5"/>
<path d="M278.40,542.44L278.40,539.94M278.40,542.44L280.78,541.67M278.40,542.44L279.87,544.46M278.40,542.44L276.93,544.46M278.40,542.44L276.02,541.67" stroke="#111" stroke-width="1.05" stroke-linecap="round" fill="none"/>
<circle cx="278.40" cy="542.44" r="0.79" fill="#111"/>
<line x1="274.40" y1="564.90" x2="297.80" y2="564.90" stroke="#000" stroke-width="1.5"/>
<path d="M286.10,557.04L286.10,554.54M286.10,557.04L288.48,556.27M286.10,557.04L287.57,559.06M286.10,557.04L284.63,559.06M286.10,557.04L283.72,556.27" stroke="#111" stroke-width="1.05" stroke-linecap="round" fill="none"/>
<circle cx="286.10" cy="557.04" r="0.79" fill="#111"/>
<line x1="284.10" y1="579.70" x2="298.20" y2="579.70" stroke="#000" stroke-width="1.5"/>
<path d="M291.10,571.74L291.10,569.24M291.10,571.74L293.48,570.97M291.10,571.74L292.57,573.76M291.10,571.74L289.63,573.76M291.10,571.74L288.72,570.97" stroke="#111" stroke-width="1.05" stroke-linecap="round" fill="none"/>
<circle cx="291.10" cy="571.74" r="0.79" fill="#111"/>
<line x1="322.40" y1="520.70" x2="361.90" y2="520.70" stroke="#000" stroke-width="1.5"/>
<path d="M338.70,512.84L338.70,510.34M338.70,512.84L341.08,512.07M338.70,512.84L340.17,514.86M338.70,512.84L337.23,514.86M338.70,512.84L336.32,512.07" stroke="#111" stroke-width="1.05" stroke-linecap="round" fill="none"/>
<circle cx="338.70" cy="512.84" r="0.79" fill="#111"/>
<path d="M346.10,512.84L346.10,510.34M346.10,512.84L348.48,512.07M346.10,512.84L347.57,514.86M346.10,512.84L344.63,514.86M346.10,512.84L343.72,512.07" stroke="#111" stroke-width="1.05" stroke-linecap="round" fill="none"/>
<circle cx="346.10" cy="512.84" r="0.79" fill="#111"/>
<line x1="336.00" y1="535.90" x2="362.10" y2="535.90" stroke="#000" stroke-width="1.5"/>
<path d="M345.40,528.04L345.40,525.54M345.40,528.04L347.78,527.27M345.40,528.04L346.87,530.06M345.40,528.04L343.93,530.06M345.40,528.04L343.02,527.27" stroke="#111" stroke-width="1.05" stroke-linecap="round" fill="none"/>
<circle cx="345.40" cy="528.04" r="0.79" fill="#111"/>
<path d="M352.80,528.04L352.80,525.54M352.80,528.04L355.18,527.27M352.80,528.04L354.27,530.06M352.80,528.04L351.33,530.06M352.80,528.04L350.42,527.27" stroke="#111" stroke-width="1.05" stroke-linecap="round" fill="none"/>
<circle cx="352.80" cy="528.04" r="0.79" fill="#111"/>
<text x="330.79" y="549.30" font-size="10" fill="#231f20" textLength="25.91" lengthAdjust="spacingAndGlyphs">0.081</text>
<line x1="336.00" y1="554.70" x2="349.80" y2="554.70" stroke="#000" stroke-width="1.5"/>
<line x1="348.10" y1="580.00" x2="361.90" y2="580.00" stroke="#000" stroke-width="1.5"/>
<path d="M354.90,571.44L354.90,568.94M354.90,571.44L357.28,570.67M354.90,571.44L356.37,573.46M354.90,571.44L353.43,573.46M354.90,571.44L352.52,570.67" stroke="#111" stroke-width="1.05" stroke-linecap="round" fill="none"/>
<circle cx="354.90" cy="571.44" r="0.79" fill="#111"/>
<rect x="385.20" y="507.00" width="7.50" height="7.20" fill="#8b84c4"/>
<text transform="translate(398.2,514.10) scale(1.1,1)" font-size="11.5" fill="#2a2a2a">V<tspan font-size="7.5" dy="3">H</tspan><tspan dy="-3">1-J</tspan><tspan font-size="7.5" dy="3">H</tspan><tspan dy="-3">6</tspan></text>
<rect x="385.20" y="524.90" width="7.50" height="7.20" fill="#c8102e"/>
<text transform="translate(398.2,532.00) scale(1.1,1)" font-size="11.5" fill="#2a2a2a">V<tspan font-size="7.5" dy="3">H</tspan><tspan dy="-3">3-J</tspan><tspan font-size="7.5" dy="3">H</tspan><tspan dy="-3">6</tspan></text>
<rect x="385.20" y="542.80" width="7.50" height="7.20" fill="#3aaa35"/>
<text transform="translate(398.2,549.90) scale(1.1,1)" font-size="11.5" fill="#2a2a2a">D<tspan font-size="7.5" dy="3">H</tspan><tspan dy="-3">3-J</tspan><tspan font-size="7.5" dy="3">H</tspan><tspan dy="-3">6</tspan></text>
<rect x="385.20" y="560.70" width="7.50" height="7.20" fill="#1d4e8c"/>
<text transform="translate(398.2,567.80) scale(1.1,1)" font-size="11.5" fill="#2a2a2a">D<tspan font-size="7.5" dy="3">H</tspan><tspan dy="-3">6-J</tspan><tspan font-size="7.5" dy="3">H</tspan><tspan dy="-3">6</tspan></text>
<rect x="385.20" y="578.60" width="7.50" height="7.20" fill="#f7941d"/>
<text transform="translate(398.2,585.70) scale(1.1,1)" font-size="11.5" fill="#2a2a2a">V<tspan font-size="7.5" dy="3">H</tspan><tspan dy="-3">3-D</tspan><tspan font-size="7.5" dy="3">H</tspan><tspan dy="-3">3-J</tspan><tspan font-size="7.5" dy="3">H</tspan><tspan dy="-3">6</tspan></text>
</svg>
</body></html>
